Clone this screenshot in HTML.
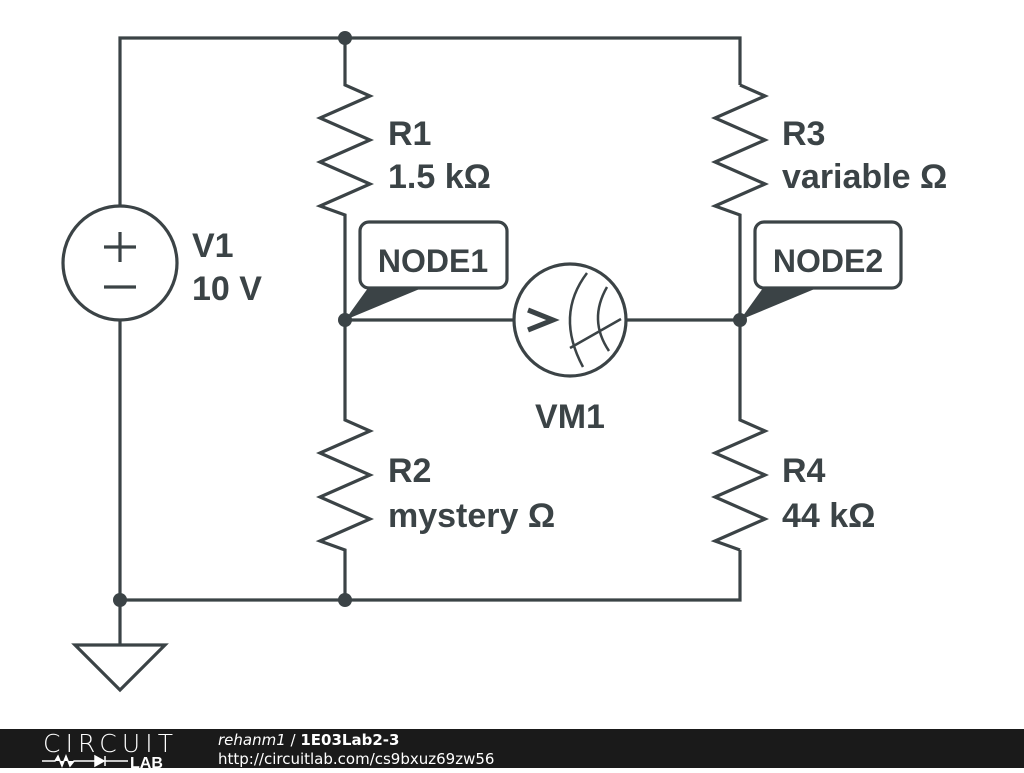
<!DOCTYPE html>
<html><head><meta charset="utf-8"><style>
body{margin:0;width:1024px;height:768px;background:#fff;overflow:hidden;font-family:"Liberation Sans",sans-serif}
</style></head><body>
<svg width="1024" height="768" viewBox="0 0 1024 768" xmlns="http://www.w3.org/2000/svg">
<g stroke="#3b4346" stroke-width="3.2" fill="none" stroke-linejoin="miter">
<path d="M120 206V38H740V85"/>
<path d="M120 320V645"/>
<path d="M120 600H740V550"/>
<path d="M345 38V85 L370 96 L320 118 L370 140 L320 162 L370 184 L320 206 L345 215 V420 L370 431 L320 453 L370 475 L320 497 L370 519 L320 541 L345 550 V600"/>
<path d="M740 85 L765 96 L715 118 L765 140 L715 162 L765 184 L715 206 L740 215 V420 L765 431 L715 453 L765 475 L715 497 L765 519 L715 541 L740 550"/>
<path d="M345 320H514 M626 320H740"/>
<circle cx="120" cy="263" r="57"/>
<circle cx="570" cy="320" r="56"/>
<path d="M75 645H165L120 690Z"/>
<path d="M104 247H136 M120 232V262 M104 287H136"/>
<path d="M587 273 Q555 315 583 367 M607 287 Q588 320 609 351 M570 348 L621 319" stroke-width="2.5"/>
<path d="M528 310 L553 320 L528 330" stroke-width="5"/>
<rect x="360" y="222" width="147" height="66" rx="9"/>
<rect x="755" y="222" width="146" height="66" rx="9"/>
</g>
<g fill="#3b4346">
<circle cx="345" cy="38" r="7"/><circle cx="345" cy="320" r="7"/><circle cx="740" cy="320" r="7"/>
<circle cx="120" cy="600" r="7"/><circle cx="345" cy="600" r="7"/>
<path d="M368 288 L422 288 L345 320Z"/>
<path d="M763 288 L817 288 L740 320Z"/>
</g>
<g fill="#3b4346" font-weight="bold" font-size="34">
<text x="388" y="145">R1</text><text x="388" y="188">1.5 kΩ</text>
<text x="782" y="145">R3</text><text x="782" y="188">variable Ω</text>
<text x="192" y="257">V1</text><text x="192" y="300">10 V</text>
<text x="433" y="272" font-size="32" text-anchor="middle">NODE1</text>
<text x="828" y="272" font-size="32" text-anchor="middle">NODE2</text>
<text x="570" y="428" text-anchor="middle">VM1</text>
<text x="388" y="482">R2</text><text x="388" y="527">mystery Ω</text>
<text x="782" y="482">R4</text><text x="782" y="527">44 kΩ</text>
</g>
<rect x="0" y="729" width="1024" height="39" fill="#1a1a1a"/>
<text x="43" y="752" fill="#fff" font-size="25" font-family="DejaVu Sans,sans-serif" font-weight="200" textLength="130">CIRCUIT</text>
<path d="M42 761H55 L58 756 L62 766 L66 756 L70 766 L74 761 H95 M95 756 V766 L104 761Z M105 756V766 M105 761H128" stroke="#fff" stroke-width="1.5" fill="#fff"/>
<text x="130" y="768" fill="#fff" font-size="16" font-weight="bold">LAB</text>
<text x="218" y="745" fill="#fff" font-size="15" font-family="DejaVu Sans,sans-serif"><tspan font-style="italic">rehanm1</tspan> / <tspan font-weight="bold">1E03Lab2-3</tspan></text>
<text x="218" y="764" fill="#fff" font-size="15" font-family="DejaVu Sans,sans-serif">http://circuitlab.com/cs9bxuz69zw56</text>
</svg>
</body></html>
